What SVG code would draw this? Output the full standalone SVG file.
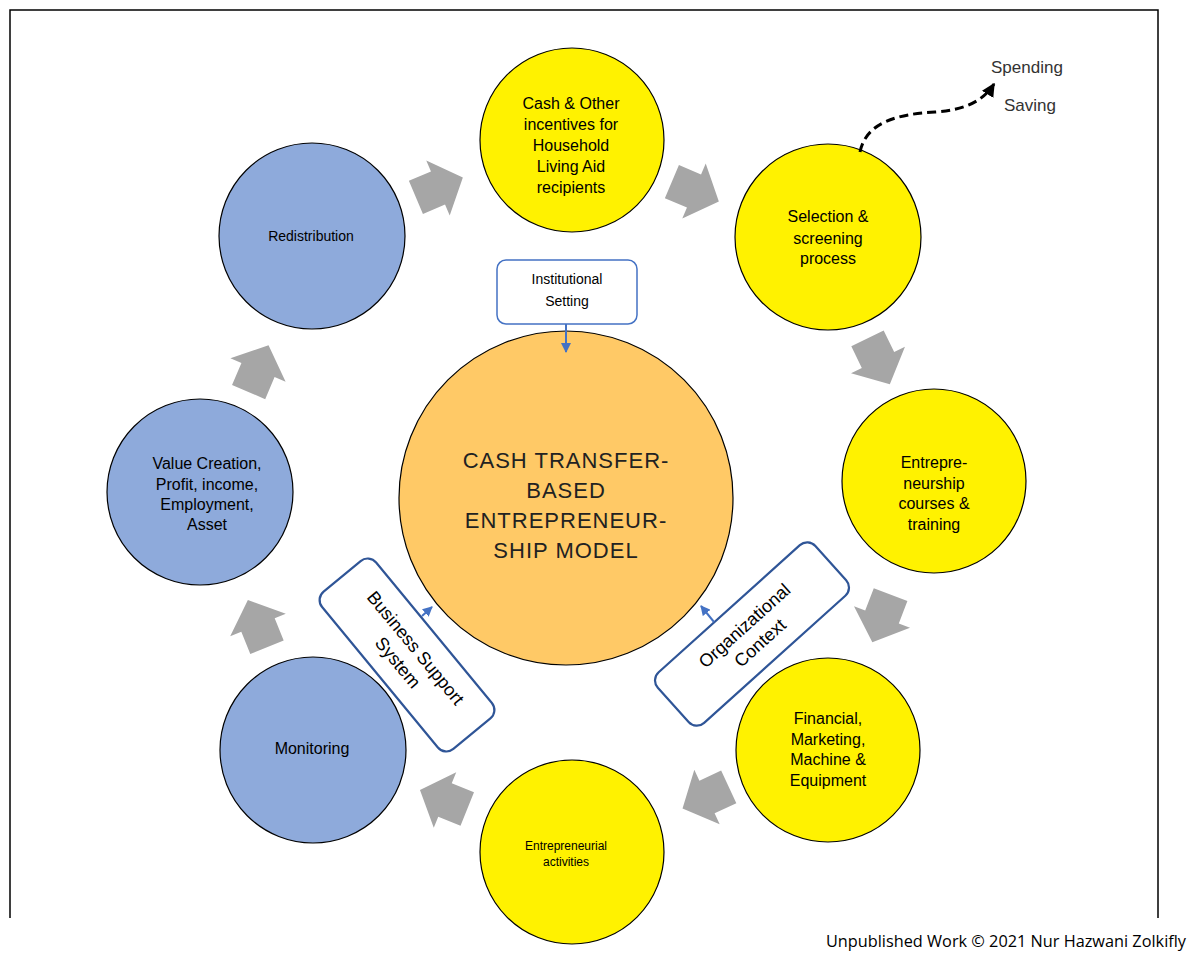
<svg xmlns="http://www.w3.org/2000/svg" width="1192" height="970" viewBox="0 0 1192 970">
<defs>
<style>
.y{fill:#FFF200;stroke:#000;stroke-width:1.2}
.b{fill:#8EAADB;stroke:#000;stroke-width:1.2}
.o{fill:#FFC966;stroke:#000;stroke-width:1.2}
.t{font-family:"Liberation Sans",Arial,sans-serif;font-size:16px;fill:#000;text-anchor:middle}
.ts{font-family:"Liberation Sans",Arial,sans-serif;font-size:14px;fill:#000;text-anchor:middle}
.tc{font-family:"Liberation Sans",Arial,sans-serif;font-size:22px;fill:#222;text-anchor:middle;letter-spacing:1px}
.bx{fill:#fff;stroke:#2F5597;stroke-width:2.2}
.ga{fill:#A6A6A6}
</style>
<path id="ba" d="M-24,-18 H0 V-30 L27,0 L0,30 V18 H-24 Z"/>
<marker id="ah" viewBox="0 0 10 10" refX="9" refY="5" markerWidth="5" markerHeight="5" orient="auto"><path d="M0,0 L10,5 L0,10 Z" fill="#4472C4"/></marker>
<marker id="ak" viewBox="0 0 10 10" refX="9" refY="5" markerWidth="4.5" markerHeight="4.5" orient="auto"><path d="M0,0 L10,5 L0,10 Z" fill="#000"/></marker>
</defs>
<rect width="1192" height="970" fill="#fff"/>
<path d="M10,918 V10 H1158 V918" fill="none" stroke="#000" stroke-width="1.5"/>

<g id="center">
<circle class="o" cx="566" cy="498" r="167"/>
<text class="tc"><tspan x="566" y="468">CASH TRANSFER-</tspan><tspan x="566" y="498">BASED</tspan><tspan x="566" y="528">ENTREPRENEUR-</tspan><tspan x="566" y="558">SHIP MODEL</tspan></text>
</g>

<g id="cash">
<circle class="y" cx="572" cy="140" r="92"/>
<text class="t"><tspan x="571" y="109">Cash &amp; Other</tspan><tspan x="571" y="130">incentives for</tspan><tspan x="571" y="151">Household</tspan><tspan x="571" y="172">Living Aid</tspan><tspan x="571" y="193">recipients</tspan></text>
</g>

<g id="selection">
<circle class="y" cx="828" cy="237" r="93"/>
<text class="t"><tspan x="828" y="222">Selection &amp;</tspan><tspan x="828" y="244">screening</tspan><tspan x="828" y="264">process</tspan></text>
</g>

<g id="training">
<circle class="y" cx="934" cy="481" r="92"/>
<text class="t"><tspan x="934" y="468">Entrepre-</tspan><tspan x="934" y="489">neurship</tspan><tspan x="934" y="509">courses &amp;</tspan><tspan x="934" y="530">training</tspan></text>
</g>

<g id="financial">
<circle class="y" cx="828" cy="750" r="92"/>
<text class="t"><tspan x="828" y="724">Financial,</tspan><tspan x="828" y="745">Marketing,</tspan><tspan x="828" y="765">Machine &amp;</tspan><tspan x="828" y="786">Equipment</tspan></text>
</g>

<g id="activities">
<circle class="y" cx="572" cy="852" r="92"/>
<text style="font-family:'Liberation Sans',Arial,sans-serif;font-size:12px;text-anchor:middle"><tspan x="566" y="850">Entrepreneurial</tspan><tspan x="566" y="866">activities</tspan></text>
</g>

<g id="monitoring">
<circle class="b" cx="313" cy="750" r="93"/>
<text class="t" x="312" y="754">Monitoring</text>
</g>

<g id="value">
<circle class="b" cx="200" cy="492" r="93"/>
<text class="t"><tspan x="207" y="469">Value Creation,</tspan><tspan x="207" y="490">Profit, income,</tspan><tspan x="207" y="510">Employment,</tspan><tspan x="207" y="530">Asset</tspan></text>
</g>

<g id="redistribution">
<circle class="b" cx="312" cy="236" r="93"/>
<text class="ts" x="311" y="241">Redistribution</text>
</g>

<g id="institutional">
<rect x="497" y="260" width="140" height="64" rx="9" fill="#fff" stroke="#4472C4" stroke-width="1.5"/>
<text class="ts" fill="#333"><tspan x="567" y="284">Institutional</tspan><tspan x="567" y="306">Setting</tspan></text>
</g>

<g id="business" transform="translate(407,655) rotate(50.5)">
<rect class="bx" x="-102" y="-35" width="204" height="70" rx="11"/>
<text class="t" style="font-size:18px"><tspan x="0" y="-5">Business Support</tspan><tspan x="0" y="18">System</tspan></text>
</g>

<g id="organizational" transform="translate(752,634) rotate(-42)">
<rect class="bx" x="-106" y="-34" width="212" height="68" rx="11"/>
<text class="t" style="font-size:18px"><tspan x="0" y="-5">Organizational</tspan><tspan x="0" y="18">Context</tspan></text>
</g>

<g id="connectors">
<use href="#ba" class="ga" transform="translate(438,188) rotate(-23)"/>
<use href="#ba" class="ga" transform="translate(694,191) rotate(23)"/>
<use href="#ba" class="ga" transform="translate(878,360) rotate(64)"/>
<use href="#ba" class="ga" transform="translate(882,617) rotate(111)"/>
<use href="#ba" class="ga" transform="translate(707,797) rotate(155)"/>
<use href="#ba" class="ga" transform="translate(445,800) rotate(202)"/>
<use href="#ba" class="ga" transform="translate(258,625) rotate(248)"/>
<use href="#ba" class="ga" transform="translate(258,370) rotate(-67)"/>
<path d="M860,152 C866,122 898,114 935,112 C966,110 984,100 994,84" fill="none" stroke="#000" stroke-width="3" stroke-dasharray="9,5" marker-end="url(#ak)"/>
<line x1="566" y1="324" x2="566" y2="352" stroke="#4472C4" stroke-width="2" marker-end="url(#ah)"/>
<line x1="714" y1="622" x2="701" y2="606" stroke="#4472C4" stroke-width="2" marker-end="url(#ah)"/>
<line x1="422" y1="616" x2="432" y2="607" stroke="#4472C4" stroke-width="2" marker-end="url(#ah)"/>
</g>

<g id="notes">
<text style="font-family:'Liberation Sans',Arial,sans-serif;font-size:17px;fill:#333" x="991" y="73">Spending</text>
<text style="font-family:'Liberation Sans',Arial,sans-serif;font-size:17px;fill:#333" x="1004" y="111">Saving</text>
<text style="font-family:'Open Sans','Liberation Sans',sans-serif;font-size:16.3px;fill:#000" x="826" y="947">Unpublished Work © 2021 Nur Hazwani Zolkifly</text>
</g>
</svg>
